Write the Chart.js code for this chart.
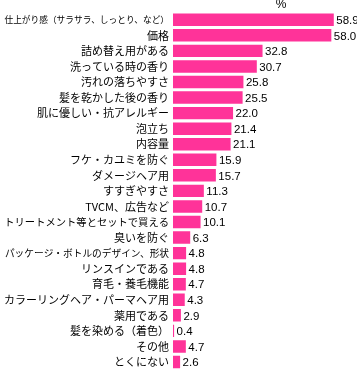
<!DOCTYPE html>
<html>
<head>
<meta charset="utf-8">
<script src="https://cdn.jsdelivr.net/npm/chart.js@4"></script>
<style>
  body { margin: 0; background: #fff; }
  #wrap { width: 357px; height: 379px; position: relative; }
</style>
</head>
<body>
<div id="wrap"><canvas id="myChart"></canvas></div>
<script>
// 項目とパーセント
let categorias = [
    '仕上がり感（サラサラ、しっとり、など）', '価格', '詰め替え用がある', '洗っている時の香り',
    '汚れの落ちやすさ', '髪を乾かした後の香り', '肌に優しい・抗アレルギー', '泡立ち', '内容量',
    'フケ・カユミを防ぐ', 'ダメージヘア用', 'すすぎやすさ', 'TVCM、広告など',
    'トリートメント等とセットで買える', '臭いを防ぐ', 'パッケージ・ボトルのデザイン、形状',
    'リンスインである', '育毛・養毛機能', 'カラーリングヘア・パーマヘア用', '薬用である',
    '髪を染める（着色）', 'その他', 'とくにない'
]
let valores = [58.9, 58.0, 32.8, 30.7, 25.8, 25.5, 22.0, 21.4, 21.1, 15.9, 15.7, 11.3, 10.7,
    10.1, 6.3, 4.8, 4.8, 4.7, 4.3, 2.9, 0.4, 4.7, 2.6]
let unidade = '%'

let corBarra = '#ff3399'

// rótulos de valor e o "%" no topo
let rotulos = {
    id: 'rotulos',
    afterDatasetsDraw(chart) {
        let ctx = chart.ctx
        let meta = chart.getDatasetMeta(0)
        ctx.save()
        ctx.font = '11.5px "Liberation Sans", Arial, sans-serif'
        ctx.fillStyle = '#000'
        ctx.textBaseline = 'middle'
        ctx.textAlign = 'left'
        meta.data.forEach((barra, i) => {
            ctx.fillText(valores[i].toFixed(1), barra.x + 2.5, barra.y + 1)
        })
        ctx.font = '12px "Liberation Sans", Arial, sans-serif'
        ctx.textAlign = 'center'
        ctx.fillText(unidade, 281, 5)
        ctx.restore()
    }
}

var ctx = document.querySelector('#myChart')

let chart = new Chart(ctx, {
    type: 'bar',
    data: {
        labels: categorias,
        datasets: [{
            data: valores,
            backgroundColor: corBarra,
            borderWidth: 0,
            barPercentage: 0.8,
            categoryPercentage: 1
        }]
    },
    options: {
        indexAxis: 'y',
        responsive: true,
        maintainAspectRatio: false,
        animation: false,
        layout: { padding: { top: 12, bottom: 0, left: 0, right: 0 } },
        plugins: {
            legend: { display: false },
            tooltip: { enabled: false }
        },
        scales: {
            x: {
                display: false,
                min: 0,
                max: 67.4
            },
            y: {
                grid: { display: false, drawTicks: false },
                border: { display: false },
                afterFit(scale) { scale.width = 173 },
                ticks: {
                    padding: 4,
                    color: '#000',
                    autoSkip: false,
                    font: (c) => {
                        let txt = categorias[c.index] || ''
                        let tam = Math.min(11, Math.floor(166 / txt.length * 10) / 10)
                        return { family: '"Noto Sans CJK JP", sans-serif', size: tam }
                    }
                }
            }
        }
    },
    plugins: [rotulos]
})
</script>
</body>
</html>
